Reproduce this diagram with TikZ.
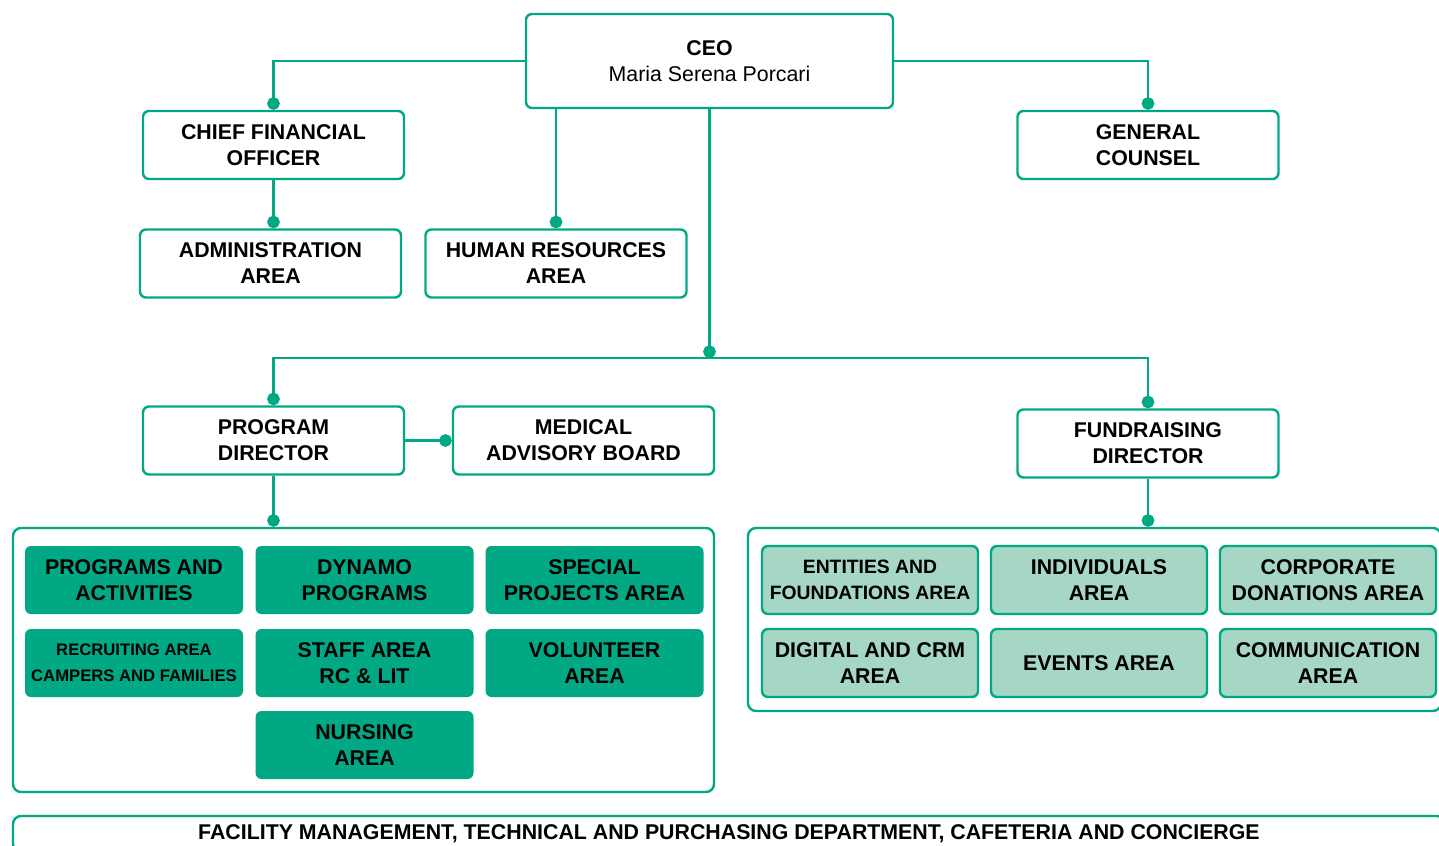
\documentclass[tikz,border=0pt]{standalone}
\usepackage{fontspec}
\setmainfont{Liberation Sans}
\usetikzlibrary{arrows.meta}

\definecolor{orggreen}{RGB}{0,168,132}
\definecolor{orglight}{RGB}{166,214,196}

\tikzset{every picture/.style={line width=0.75pt}}
\tikzset{
	unitbox/.style={draw=orggreen, line width=1.8pt, rounded corners=4.5pt, fill=white, align=center, inner sep=0pt, font=\fontsize{16}{19.5}\selectfont\bfseries, minimum width=195.75pt, minimum height=51pt},
	groupbox/.style={draw=orggreen, line width=1.8pt, rounded corners=6pt, inner sep=0pt},
	darkarea/.style={fill=orggreen, rounded corners=4.5pt, align=center, inner sep=0pt, font=\fontsize{16}{19.5}\selectfont\bfseries, minimum width=163.5pt, minimum height=51pt},
	lightarea/.style={draw=orggreen, line width=1.8pt, fill=orglight, rounded corners=4.5pt, align=center, inner sep=0pt, font=\fontsize{16}{19.5}\selectfont\bfseries, minimum width=162pt, minimum height=51pt},
	link/.style={draw=orggreen, line width=1.8pt, -{Circle[length=9.5pt,width=9.5pt]}},
}

\begin{document}
\begin{tikzpicture}[x=0.75pt,y=0.75pt,yscale=-1,xscale=1]
	\useasboundingbox (0,0) rectangle (1439,846);

	%Shape: Top units
	\draw (709.5,61) node [unitbox, minimum width=275.25pt, minimum height=70.5pt, font=\fontsize{16}{20}\selectfont] (ceo) {\textbf{CEO}\\Maria Serena Porcari};
	\draw (273.5,145) node [unitbox] (cfo) {CHIEF FINANCIAL\\OFFICER};
	\draw (1148,145) node [unitbox] (counsel) {GENERAL\\COUNSEL};
	\draw (270.5,263.5) node [unitbox] (admin) {ADMINISTRATION\\AREA};
	\draw (556,263.5) node [unitbox] (hr) {HUMAN RESOURCES\\AREA};

	%Shape: Directors
	\draw (273.5,440.5) node [unitbox] (program) {PROGRAM\\DIRECTOR};
	\draw (583.5,440.5) node [unitbox] (medical) {MEDICAL\\ADVISORY BOARD};
	\draw (1148,443.5) node [unitbox] (fundraising) {FUNDRAISING\\DIRECTOR};

	%Shape: Group containers
	\draw (363.5,660) node [groupbox, minimum width=525.75pt, minimum height=198pt] (programgroup) {};
	\draw (1094.5,619.5) node [groupbox, minimum width=519.75pt, minimum height=137.25pt] (fundgroup) {};
	\draw (729,834) node [groupbox, minimum width=1074pt, minimum height=27pt, font=\fontsize{16}{19.5}\selectfont\bfseries] (facility) {FACILITY MANAGEMENT, TECHNICAL AND PURCHASING DEPARTMENT, CAFETERIA AND CONCIERGE};

	%Shape: Program areas
	\draw (134,580) node [darkarea] (activities) {PROGRAMS AND\\ACTIVITIES};
	\draw (364.5,580) node [darkarea] (dynamo) {DYNAMO\\PROGRAMS};
	\draw (594.5,580) node [darkarea] (special) {SPECIAL\\PROJECTS AREA};
	\draw (134,663) node [darkarea, font=\fontsize{12.5}{19.5}\selectfont\bfseries] (recruiting) {RECRUITING AREA\\CAMPERS AND FAMILIES};
	\draw (364.5,663) node [darkarea] (staff) {STAFF AREA\\RC \& LIT};
	\draw (594.5,663) node [darkarea] (volunteer) {VOLUNTEER\\AREA};
	\draw (364.5,745) node [darkarea] (nursing) {NURSING\\AREA};

	%Shape: Fundraising areas
	\draw (870,580) node [lightarea, font=\fontsize{14.5}{19.5}\selectfont\bfseries] (entities) {ENTITIES AND\\FOUNDATIONS AREA};
	\draw (1099,580) node [lightarea] (individuals) {INDIVIDUALS\\AREA};
	\draw (1328,580) node [lightarea] (corporate) {CORPORATE\\DONATIONS AREA};
	\draw (870,663) node [lightarea] (digital) {DIGITAL AND CRM\\AREA};
	\draw (1099,663) node [lightarea] (events) {EVENTS AREA};
	\draw (1328,663) node [lightarea] (communication) {COMMUNICATION\\AREA};

	%Straight Lines
	\coordinate (bus) at (709.5,358);
	\draw [link] (ceo.west) -| (cfo.north);
	\draw [link] (ceo.east) -| (counsel.north);
	\draw [link] (cfo.south) -- (admin.north -| cfo.south);
	\draw [link] (ceo.south -| hr.north) -- (hr.north);
	\draw [link] (ceo.south) -- (bus);
	\draw [link] (bus) -| (program.north);
	\draw [link] (bus) -| (fundraising.north);
	\draw [link] (program.east) -- (medical.west);
	\draw [link] (program.south) -- (programgroup.north -| program.south);
	\draw [link] (fundraising.south) -- (fundgroup.north -| fundraising.south);
\end{tikzpicture}
\end{document}
